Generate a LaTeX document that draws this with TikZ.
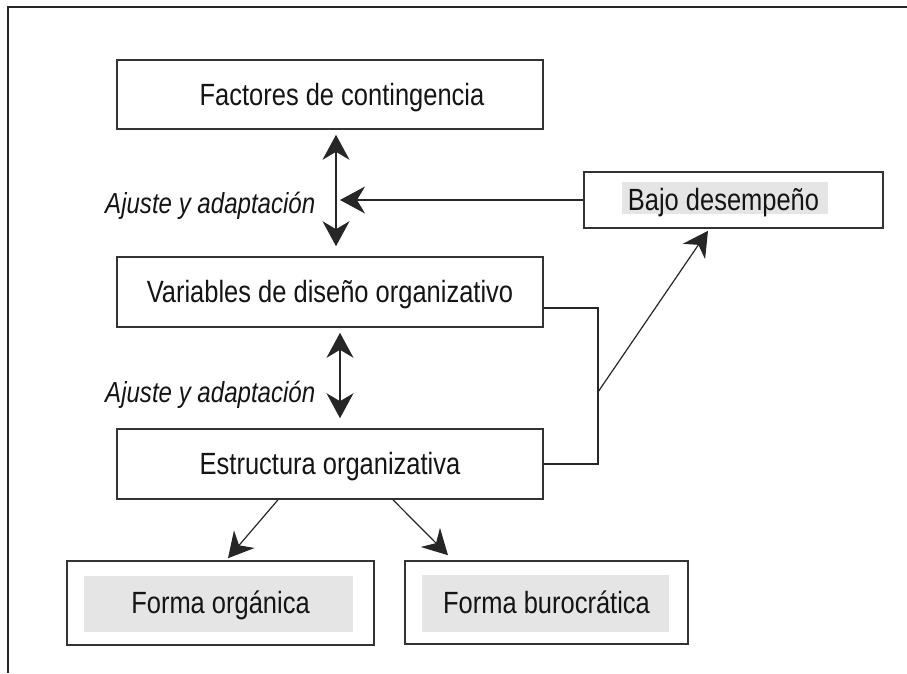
\documentclass[tikz,border=0pt]{standalone}
\usepackage{fontspec}
\setmainfont{Liberation Sans}[FakeStretch=0.83]
\usetikzlibrary{arrows.meta,backgrounds}

\begin{document}
\begin{tikzpicture}[
    x=1pt, y=-1pt,
    every node/.style={font=\fontsize{30.7}{36}\selectfont, text=black!92},
    bx/.style={rectangle, draw=black!80, line width=1.6pt, inner sep=0pt,
               text height=21pt, text depth=0pt},
    lbl/.style={font=\fontsize{29}{34}\selectfont\itshape, inner sep=0pt,
                anchor=base west},
    ln/.style={draw=black!85, line width=1.2pt},
    tip/.tip={Stealth[length=25pt, width=27pt, inset=8pt]},
    e/.style={ln, -tip},
    ee/.style={ln, tip-tip},
    hl/.style={fill=black!10},
  ]
  \useasboundingbox (0,0) rectangle (907,673);
  % frame
  \draw[ln, line width=1.8pt] (8,673) -- (8,7) -- (907,7);

  \node[bx, minimum width=426pt, minimum height=69pt] (fact) at (330,94.5)
    {\hspace*{24pt}Factores de contingencia};
  \node[bx, minimum width=299pt, minimum height=56pt] (bajo) at (733.5,200)
    {Bajo desempeño\hspace*{20pt}};
  \node[bx, minimum width=426pt, minimum height=70pt] (vars) at (330,292)
    {Variables de diseño organizativo};
  \node[bx, minimum width=426pt, minimum height=70pt] (estr) at (330,464)
    {Estructura organizativa};
  \node[bx, minimum width=307pt, minimum height=84pt] (org) at (220.5,603)
    {Forma orgánica};
  \node[bx, minimum width=283pt, minimum height=83pt] (buro) at (546.5,602.5)
    {Forma burocrática};

  \node[lbl] (adj1) at (105,213) {Ajuste y adaptación};
  \node[lbl] (adj2) at (105,402) {Ajuste y adaptación};

  % grey bands behind the texts
  \begin{scope}[on background layer]
    \fill[hl] ([shift={(39pt,-11pt)}]bajo.north west) rectangle ([shift={(-56pt,15pt)}]bajo.south east);
    \fill[hl] ([shift={(18pt,-16pt)}]org.north west) rectangle ([shift={(-22pt,14pt)}]org.south east);
    \fill[hl] ([shift={(18pt,-15pt)}]buro.north west) rectangle ([shift={(-20pt,13pt)}]buro.south east);
  \end{scope}

  \coordinate (jn) at (598,392);
  \draw[ee] ([xshift=6pt,yshift=-5pt]fact.south) -- ([xshift=6pt,yshift=10pt]vars.north);
  \draw[ee] ([xshift=10pt,yshift=-5pt]vars.south) -- ([xshift=10pt,yshift=10pt]estr.north);
  \draw[e] (bajo.west) -- ([xshift=10pt]fact.south |- bajo.west);
  \draw[ln] ([yshift=-16pt]vars.east) -| (jn) |- (estr.east);
  \draw[e] (jn) -- ([xshift=-25.5pt,yshift=-2pt]bajo.south);
  \draw[e] ([xshift=-52pt]estr.south) -- ([xshift=7.5pt,yshift=2pt]org.north);
  \draw[e] ([xshift=63pt]estr.south) -- ([xshift=-98.5pt,yshift=5pt]buro.north);
\end{tikzpicture}
\end{document}
